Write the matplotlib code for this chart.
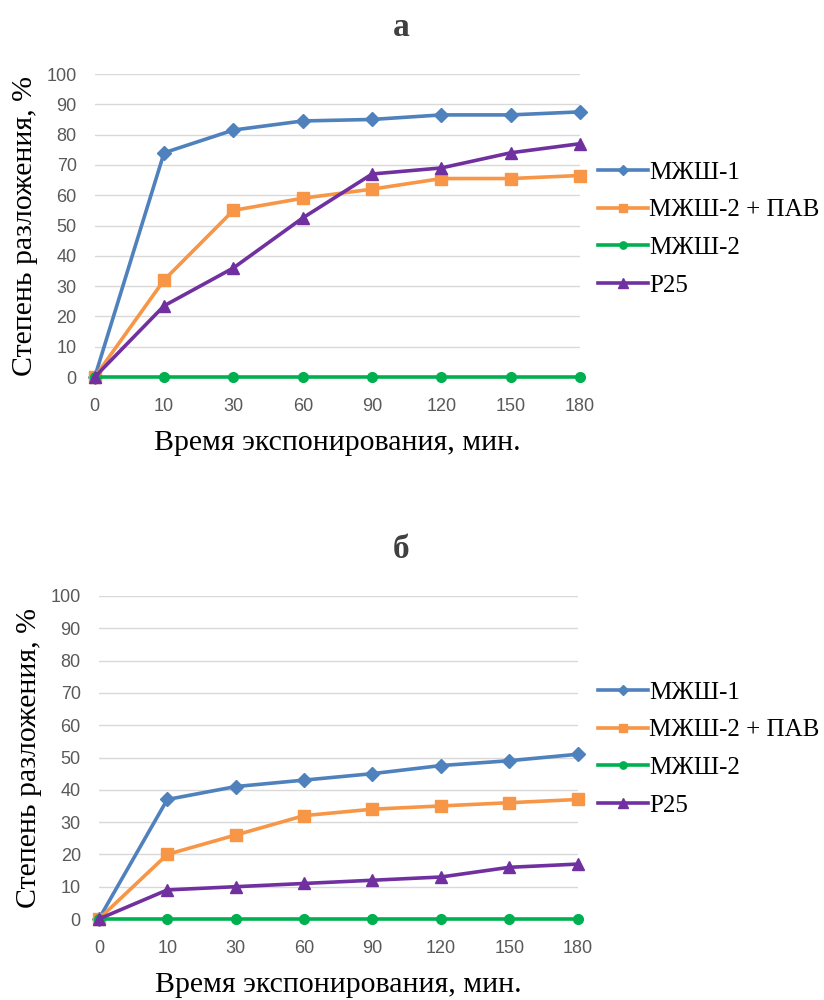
import numpy as np
import matplotlib.pyplot as plt

times = ['0', '10', '30', '60', '90', '120', '150', '180']
names = ['МЖШ-1', 'МЖШ-2 + ПАВ', 'МЖШ-2', 'P25']

# panel а
a_mzh1 = [0, 74, 81.5, 84.5, 85, 86.5, 86.5, 87.5]
a_pav = [0, 32, 55, 59, 62, 65.5, 65.5, 66.5]
a_mzh2 = [0, 0, 0, 0, 0, 0, 0, 0]
a_p25 = [0, 23.5, 36, 52.5, 67, 69, 74, 77]

# panel б
b_mzh1 = [0, 37, 41, 43, 45, 47.5, 49, 51]
b_pav = [0, 20, 26, 32, 34, 35, 36, 37]
b_mzh2 = [0, 0, 0, 0, 0, 0, 0, 0]
b_p25 = [0, 9, 10, 11, 12, 13, 16, 17]

colors = ['#4f81bd', '#f79646', '#00b050', '#7030a0']
markers = ['D', 's', 'o', '^']
msizes = [7, 8, 7, 9]

serif = 'Liberation Serif'
fig = plt.figure(figsize=(8.24, 10), dpi=100)

def panel(rect, series, title, title_y, leg_y):
    ax = fig.add_axes(rect)
    x = np.arange(len(times))
    order = [0, 1, 3, 2]
    for i in order:
        ax.plot(x, series[i], color=colors[i], marker=markers[i], ms=msizes[i],
                lw=2.6, label=names[i], clip_on=False, zorder=3 + (i == 3))
    ax.set_xlim(0, len(times) - 1)
    ax.set_ylim(0, 100)
    ax.set_yticks(range(0, 101, 10))
    ax.set_xticks(x)
    ax.set_xticklabels(times)
    ax.grid(axis='y', color='#d9d9d9', lw=1)
    ax.set_axisbelow(True)
    for s in ax.spines.values():
        s.set_visible(False)
    ax.tick_params(axis='y', length=0, labelsize=13, labelcolor='#595959', pad=13)
    ax.tick_params(axis='x', length=0, labelsize=13, labelcolor='#595959', pad=15)
    for lab in ax.get_xticklabels() + ax.get_yticklabels():
        lab.set_family('Liberation Sans')
    ax.set_ylabel('Степень разложения, %', family=serif, fontsize=21.5, labelpad=6)
    ax.set_xlabel('Время экспонирования, мин.', family=serif, fontsize=21.5, labelpad=11)
    fig.text(0.487, title_y, title, family=serif, fontsize=24, fontweight='bold',
             ha='center', va='center', color='#404040')
    h, l = ax.get_legend_handles_labels()
    idx = [l.index(n) for n in names]
    ax.legend([h[i] for i in idx], [l[i] for i in idx], loc='center left',
              bbox_to_anchor=(0.726, leg_y), bbox_transform=fig.transFigure,
              frameon=False, prop={'family': serif, 'size': 18}, handlelength=2.0,
              handletextpad=0.05, labelspacing=0.6, markerscale=0.75,
              borderpad=0, borderaxespad=0)
    return ax

panel([0.115, 0.623, 0.589, 0.303], [a_mzh1, a_pav, a_mzh2, a_p25], 'а', 0.972, 0.771)
panel([0.120, 0.081, 0.581, 0.323], [b_mzh1, b_pav, b_mzh2, b_p25], 'б', 0.450, 0.251)

fig.savefig('out.png', dpi=100)
